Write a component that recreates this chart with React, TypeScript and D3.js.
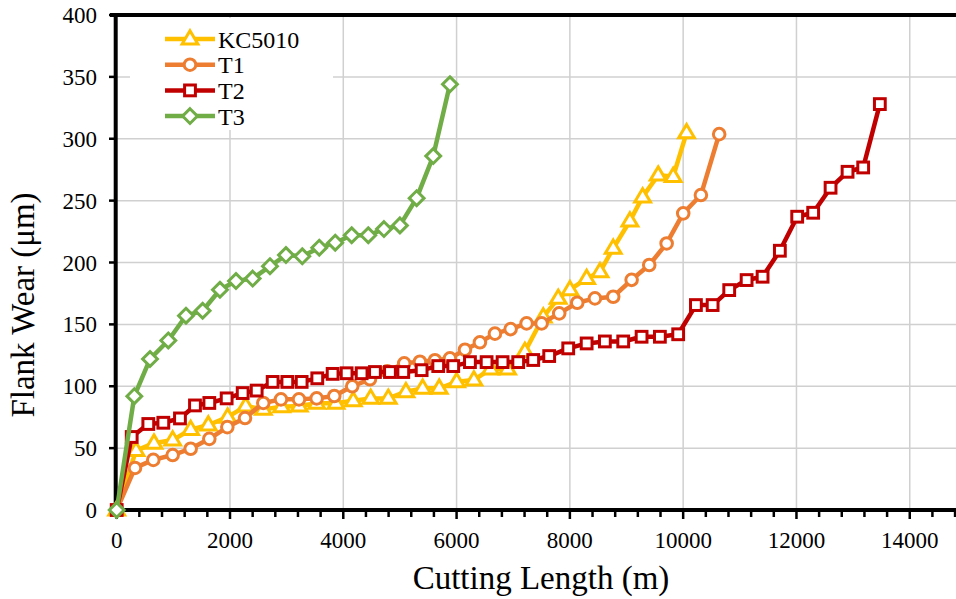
import React from "react";
import * as d3 from "d3";

// Flank wear progression vs. cutting length for four tool grades
const kc5010Length = [0, 341, 658, 988, 1306, 1617, 1959, 2277, 2588, 2912, 3223, 3530, 3871, 4176, 4483, 4794, 5106, 5401, 5694, 6001, 6306, 6600, 6900, 7206, 7530, 7794, 8001, 8296, 8532, 8765, 9060, 9284, 9559, 9824, 10060];
const kc5010Wear = [0, 48, 54, 56.5, 65, 68.7, 75, 84, 81.3, 83.5, 84, 86.2, 86.2, 88.3, 90.2, 90.2, 95.6, 98.3, 98.3, 103.6, 105, 114, 114, 128, 156, 171, 178, 187, 192.5, 211.5, 233.5, 253, 270.6, 269.5, 304.8];

const t1Length = [0, 323, 646, 988, 1306, 1635, 1953, 2265, 2588, 2900, 3218, 3530, 3841, 4158, 4471, 4776, 5076, 5353, 5618, 5883, 6148, 6412, 6677, 6954, 7236, 7501, 7812, 8130, 8442, 8765, 9090, 9401, 9708, 10001, 10313, 10636];
const t1Wear = [0, 34, 40.5, 44.4, 49.5, 57.5, 67, 74.3, 86.5, 89.4, 89.4, 90.2, 92.1, 100, 105.6, 112, 118.5, 119.8, 121, 122.5, 129.5, 135.5, 142.5, 146.2, 150.8, 150.8, 158.9, 167.5, 171, 172.3, 186, 198, 215.4, 239.7, 254.5, 303.7];

const t2Length = [0, 265, 558, 823, 1117, 1382, 1635, 1941, 2224, 2471, 2753, 3012, 3265, 3541, 3812, 4059, 4324, 4559, 4824, 5059, 5383, 5676, 5941, 6236, 6530, 6812, 7088, 7353, 7635, 7971, 8296, 8618, 8942, 9266, 9589, 9912, 10225, 10520, 10813, 11120, 11402, 11707, 12013, 12295, 12602, 12902, 13178, 13472];
const t2Wear = [0, 59, 69.5, 70.5, 74, 84.5, 86.5, 90.2, 94.5, 96.5, 103.5, 103.5, 103.5, 106.4, 110, 110.5, 110.5, 111.5, 111.5, 111.5, 113, 116.3, 116.3, 119.5, 119.5, 119.5, 119.5, 121.2, 124.4, 130.6, 134.6, 136.2, 136.2, 140, 140, 142, 165.6, 165.6, 177.7, 185.8, 188.5, 209.5, 237, 240.2, 260.4, 273.3, 276.8, 328];

const t3Length = [0, 311, 588, 911, 1223, 1517, 1823, 2106, 2400, 2706, 2988, 3276, 3576, 3858, 4148, 4441, 4718, 5000, 5295, 5588, 5883];
const t3Wear = [0, 92, 122, 137, 157, 161, 178, 185, 187, 197, 206, 205, 212, 216, 222, 222, 227, 230, 252, 286, 344];

const seriesNames = ["KC5010", "T1", "T2", "T3"];
const seriesColors = ["#FFC000", "#ED7D31", "#C00000", "#70AD47"];
const seriesMarkers = ["triangle", "circle", "square", "diamond"];

const xTicks = [0, 2000, 4000, 6000, 8000, 10000, 12000, 14000];
const yTicks = [0, 50, 100, 150, 200, 250, 300, 350, 400];

const W = 956;
const H = 599;
const FONT = "'Liberation Serif', 'Times New Roman', serif";

const x = d3.scaleLinear().domain([0, 15000]).range([116.7, 966.4]);
const y = d3.scaleLinear().domain([0, 400]).range([510, 15]);

function Marker({ kind, cx, cy, color }: { kind: string; cx: number; cy: number; color: string }) {
  const sw = 3;
  if (kind === "triangle") {
    const r = 8.3;
    const pts = [
      [cx, cy - r],
      [cx + r * 0.95, cy + r * 0.6],
      [cx - r * 0.95, cy + r * 0.6],
    ];
    return <polygon points={pts.map((p) => p.join(",")).join(" ")} fill="#fff" stroke={color} strokeWidth={sw} strokeLinejoin="miter" />;
  }
  if (kind === "circle") {
    return <circle cx={cx} cy={cy} r={5.8} fill="#fff" stroke={color} strokeWidth={sw} />;
  }
  if (kind === "square") {
    const s = 10.8;
    return <rect x={cx - s / 2} y={cy - s / 2} width={s} height={s} fill="#fff" stroke={color} strokeWidth={sw} />;
  }
  const r = 7.4;
  const pts = [
    [cx, cy - r],
    [cx + r, cy],
    [cx, cy + r],
    [cx - r, cy],
  ];
  return <polygon points={pts.map((p) => p.join(",")).join(" ")} fill="#fff" stroke={color} strokeWidth={sw} />;
}

export default function App() {
  const series = [
    { len: kc5010Length, wear: kc5010Wear },
    { len: t1Length, wear: t1Wear },
    { len: t2Length, wear: t2Wear },
    { len: t3Length, wear: t3Wear },
  ];
  const line = d3
    .line<[number, number]>()
    .x((d) => x(d[0]))
    .y((d) => y(d[1]));

  const minorTicks = d3.range(0, 15001, 400);

  return (
    <svg width={W} height={H} style={{ position: "fixed", left: 0, top: 0, background: "#fff" }} fontFamily={FONT}>
      <rect x={0} y={0} width={W} height={H} fill="#fff" />
      {/* gridlines */}
      {yTicks.slice(1, -1).map((t) => (
        <line key={"gy" + t} x1={x(0)} x2={W} y1={y(t)} y2={y(t)} stroke="#d0d0d0" strokeWidth={1.5} />
      ))}
      {xTicks.slice(1).map((t) => (
        <line key={"gx" + t} x1={x(t)} x2={x(t)} y1={y(400)} y2={y(0)} stroke="#d0d0d0" strokeWidth={1.5} />
      ))}

      {/* legend background */}
      <rect x={130} y={18} width={203} height={112} fill="#fff" />

      {/* axes */}
      <line x1={110} x2={W} y1={y(400)} y2={y(400)} stroke="#000" strokeWidth={4} />
      <line x1={x(0) - 1} x2={x(0) - 1} y1={y(400) - 2} y2={y(0) + 2} stroke="#000" strokeWidth={4} />
      <line x1={x(0) - 3} x2={W} y1={y(0)} y2={y(0)} stroke="#000" strokeWidth={4} />
      {yTicks.map((t) => (
        <line key={"ty" + t} x1={109} x2={x(0)} y1={y(t)} y2={y(t)} stroke="#000" strokeWidth={2.5} />
      ))}
      {minorTicks.map((t) => (
        <line key={"tx" + t} x1={x(t)} x2={x(t)} y1={y(0)} y2={y(0) + (t % 2000 === 0 ? 9 : 7)} stroke="#000" strokeWidth={2.5} />
      ))}

      {/* tick labels */}
      {yTicks.map((t) => (
        <text key={"ly" + t} x={97} y={y(t) + 8} fontSize={23} textAnchor="end" fill="#000">
          {t}
        </text>
      ))}
      {xTicks.map((t) => (
        <text key={"lx" + t} x={x(t)} y={548} fontSize={23} textAnchor="middle" fill="#000">
          {t}
        </text>
      ))}

      {/* axis titles */}
      <text x={541} y={589} fontSize={33} textAnchor="middle" fill="#000">
        Cutting Length (m)
      </text>
      <text transform="translate(34,305) rotate(-90)" fontSize={33} textAnchor="middle" fill="#000">
        Flank Wear (μm)
      </text>

      {/* series */}
      {series.map((s, i) => {
        const pts = s.len.map((l, j) => [l, s.wear[j]] as [number, number]);
        return (
          <g key={"s" + i}>
            <path d={line(pts) || ""} fill="none" stroke={seriesColors[i]} strokeWidth={4.5} strokeLinejoin="round" />
            {pts.map((p, j) => (
              <Marker key={j} kind={seriesMarkers[i]} cx={x(p[0])} cy={y(p[1])} color={seriesColors[i]} />
            ))}
          </g>
        );
      })}

      {/* legend */}
      {seriesNames.map((n, i) => {
        const ly = 39 + i * 25.7;
        return (
          <g key={"lg" + i}>
            <line x1={165} x2={215} y1={ly} y2={ly} stroke={seriesColors[i]} strokeWidth={4.5} />
            <Marker kind={seriesMarkers[i]} cx={190} cy={ly} color={seriesColors[i]} />
            <text x={218} y={ly + 8.5} fontSize={24} fill="#000">
              {n}
            </text>
          </g>
        );
      })}
    </svg>
  );
}
